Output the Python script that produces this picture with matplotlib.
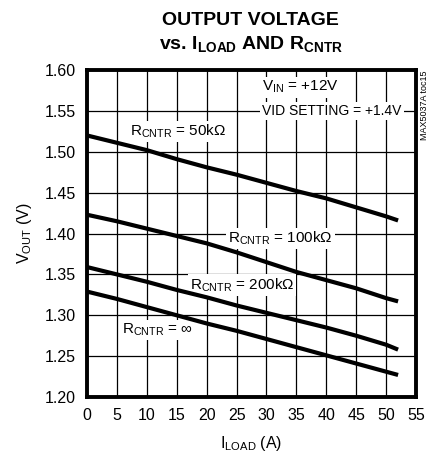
import matplotlib
matplotlib.use("Agg")
import matplotlib.pyplot as plt
from matplotlib import font_manager

names = set(f.name for f in font_manager.fontManager.ttflist)
narrow = "Liberation Sans Narrow" if "Liberation Sans Narrow" in names else "Liberation Sans"
plt.rcParams['font.family'] = [narrow, 'DejaVu Sans']
plt.rcParams['mathtext.fontset'] = 'custom'
plt.rcParams['mathtext.rm'] = narrow
plt.rcParams['mathtext.it'] = narrow
plt.rcParams['mathtext.bf'] = narrow + ':bold'

# data
iload = [0, 5, 10, 15, 20, 25, 30, 35, 40, 45, 50, 52]
v_50k = [1.520, 1.511, 1.502, 1.491, 1.481, 1.472, 1.462, 1.452, 1.443, 1.432, 1.421, 1.416]
v_100k = [1.423, 1.415, 1.406, 1.397, 1.388, 1.377, 1.365, 1.353, 1.343, 1.333, 1.321, 1.317]
v_200k = [1.359, 1.350, 1.341, 1.331, 1.322, 1.312, 1.303, 1.294, 1.285, 1.275, 1.264, 1.258]
v_inf = [1.329, 1.320, 1.310, 1.300, 1.290, 1.281, 1.271, 1.261, 1.251, 1.241, 1.231, 1.227]

xticks = list(range(0, 60, 5))
yticks = [1.20, 1.25, 1.30, 1.35, 1.40, 1.45, 1.50, 1.55, 1.60]

fig = plt.figure(figsize=(4.44, 4.59), dpi=100)
ax = fig.add_axes([0.196, 0.135, 0.741, 0.7124])

for v in [v_50k, v_100k, v_200k, v_inf]:
    ax.plot(iload, v, color='black', lw=3, solid_capstyle='butt', zorder=4)

ax.set_xlim(0, 55)
ax.set_ylim(1.20, 1.60)
ax.set_xticks(xticks)
ax.set_yticks(yticks)
ax.set_yticklabels(['%.2f' % y for y in yticks])
ax.grid(True, color='black', lw=0.9, zorder=1)
ax.set_axisbelow(True)
ax.tick_params(length=0, labelsize=11.5, pad=8)
for s in ax.spines.values():
    s.set_linewidth(2.8)

box = dict(facecolor='white', edgecolor='none', pad=1.5)
fs = 11
ax.text(7.2, 1.525, r'R$_{\mathrm{CNTR}}$ = 50k$\Omega$', fontsize=fs, va='center', ha='left', bbox=box, zorder=3)
ax.text(23.6, 1.394, r'R$_{\mathrm{CNTR}}$ = 100k$\Omega$', fontsize=fs, va='center', ha='left', bbox=box, zorder=3)
ax.text(17.2, 1.337, r'R$_{\mathrm{CNTR}}$ = 200k$\Omega$', fontsize=fs, va='center', ha='left', bbox=box, zorder=3)
ax.text(5.85, 1.282, r'R$_{\mathrm{CNTR}}$ = $\infty$', fontsize=fs, va='center', ha='left', bbox=box, zorder=3)
ax.text(29.3, 1.579, r'V$_{\mathrm{IN}}$ = +12V', fontsize=fs, va='center', ha='left', bbox=box, zorder=3)
ax.text(29.3, 1.550, 'VID SETTING = +1.4V', fontsize=10, va='center', ha='left', bbox=box, zorder=3)

ax.set_xlabel(r'I$_{\mathrm{LOAD}}$ (A)', fontsize=11.5, labelpad=8)
ax.set_ylabel(r'V$_{\mathrm{OUT}}$ (V)', fontsize=11.5, labelpad=8)

fig.text(0.565, 0.955, 'OUTPUT VOLTAGE', fontsize=14, fontweight='bold', ha='center', va='center')
fig.text(0.565, 0.905, r'vs. I$_{\mathbf{LOAD}}$ AND R$_{\mathbf{CNTR}}$', fontsize=14, fontweight='bold', ha='center', va='center')
fig.text(0.957, 0.847, 'MAX5037A toc15', fontsize=6.5, rotation=90, ha='center', va='top')

fig.savefig('out.png', dpi=100)
